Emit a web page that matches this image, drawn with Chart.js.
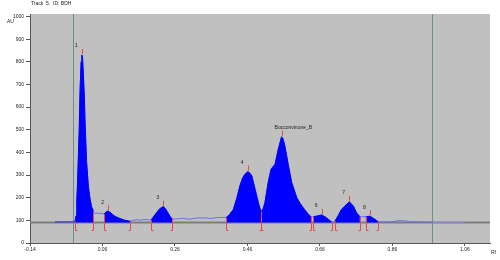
<!DOCTYPE html>
<html>
<head>
<meta charset="utf-8">
<script src="https://cdn.jsdelivr.net/npm/chart.js@4.4.1/dist/chart.umd.min.js"></script>
<style>
  body { margin: 0; background: #fff; }
  #wrap { width: 500px; height: 260px; }
</style>
</head>
<body>
<div id="wrap"><canvas id="densChart" width="500" height="260"></canvas></div>
<script>
// densitogram trace, Rf vs AU
const traceRf = [
    -0.071, -0.040, -0.016, -0.013, -0.011, -0.009, -0.007, -0.004, -0.002, 0.001,
    0.003, 0.005, 0.007, 0.010, 0.012, 0.016, 0.021, 0.026, 0.030, 0.035,
    0.040, 0.045, 0.050, 0.056, 0.060, 0.064, 0.068, 0.072, 0.076, 0.081,
    0.086, 0.095, 0.108, 0.122, 0.136, 0.145, 0.155, 0.165, 0.175, 0.185,
    0.194, 0.205, 0.216, 0.223, 0.228, 0.233, 0.238, 0.246, 0.253, 0.265,
    0.280, 0.300, 0.320, 0.340, 0.360, 0.375, 0.390, 0.401, 0.410, 0.421,
    0.430, 0.439, 0.446, 0.453, 0.461, 0.467, 0.472, 0.481, 0.490, 0.497,
    0.503, 0.508, 0.517, 0.525, 0.536, 0.545, 0.554, 0.558, 0.563, 0.573,
    0.582, 0.596, 0.605, 0.614, 0.625, 0.635, 0.638, 0.642, 0.655, 0.665,
    0.678, 0.692, 0.697, 0.701, 0.710, 0.719, 0.733, 0.741, 0.752, 0.761,
    0.770, 0.778, 0.786, 0.798, 0.812, 0.821, 0.840, 0.860, 0.872, 0.885,
    0.894, 0.910, 0.940, 0.970, 1.060
];
const traceAU = [
    93, 93, 94, 120, 180, 260, 360, 520, 670, 800,
    830, 815, 755, 640, 530, 360, 250, 190, 160, 140,
    130, 133, 129, 132, 130, 128, 134, 140, 140, 135,
    128, 117, 108, 100, 96, 100, 103, 101, 104, 102,
    101, 125, 148, 157, 160, 153, 140, 118, 105, 106,
    109, 105, 110, 111, 108, 112, 113, 112, 125, 148,
    195, 252, 285, 304, 315, 308, 296, 237, 178, 138,
    150, 178, 267, 326, 348, 415, 469, 460, 429, 341,
    267, 200, 175, 155, 132, 116, 115, 116, 120, 124,
    111, 93, 94, 96, 120, 148, 170, 182, 163, 133,
    116, 116, 116, 118, 104, 93, 94, 93, 98, 99,
    97, 94, 93, 92, 92
];

// integrated peaks
const peakNames = ['1', '2', '3', '4', 'Bocconvinone_B', '6', '7', '8'];
const peakStart = [-0.016, 0.064, 0.194, 0.401, 0.497, 0.642, 0.701, 0.786];
const peakEnd   = [0.035, 0.136, 0.253, 0.497, 0.635, 0.692, 0.770, 0.821];
const peakApex  = [0.003, 0.076, 0.228, 0.461, 0.554, 0.665, 0.741, 0.798];

const baselineAU = 90;
const baseRf = [-0.14, -0.071, 1.06, 1.129];
const markerRf = [-0.02, 0.97];          // application / front lines
const xTicks = [-0.14, 0.06, 0.26, 0.46, 0.66, 0.86, 1.06];
const yTicks = [0, 100, 200, 300, 400, 500, 600, 700, 800, 900, 1000];

const FONT = { family: "'Liberation Sans', Arial, sans-serif", size: 5 };

function inPeak(rf) {
    return peakStart.some((s, i) => rf >= s - 1e-9 && rf <= peakEnd[i] + 1e-9);
}
function auAt(rf) {
    let best = 0;
    traceRf.forEach((r, i) => { if (Math.abs(r - rf) < Math.abs(traceRf[best] - rf)) best = i; });
    return traceAU[best];
}

const tracePts = traceRf.map((r, i) => ({ x: r, y: traceAU[i] }));
const peakPts = traceRf.map((r, i) => ({ x: r, y: inPeak(r) ? traceAU[i] : null }));
const basePts = baseRf.map(r => ({ x: r, y: baselineAU }));

const overlayPlugin = {
    id: 'overlay',
    beforeDraw(chart) {
        const { ctx, chartArea: a } = chart;
        ctx.save();
        ctx.fillStyle = '#c0c0c0';
        ctx.fillRect(a.left, a.top, a.right - a.left, a.bottom - a.top);
        ctx.restore();
    },
    beforeDatasetsDraw(chart) {
        const { ctx, chartArea: a, scales: { x } } = chart;
        ctx.save();
        ctx.strokeStyle = '#6f8c8c';
        ctx.lineWidth = 1;
        markerRf.forEach(r => {
            const px = Math.round(x.getPixelForValue(r)) + 0.5;
            ctx.beginPath();
            ctx.moveTo(px, a.top);
            ctx.lineTo(px, a.bottom);
            ctx.stroke();
        });
        ctx.restore();
    },
    afterDatasetsDraw(chart) {
        const { ctx, chartArea: a, scales: { x, y } } = chart;
        ctx.save();
        ctx.strokeStyle = '#e84545';
        ctx.lineWidth = 1;
        const yBase = y.getPixelForValue(baselineAU);
        // bracket for peak boundaries
        const bracket = (rf, dir) => {
            const px = Math.round(x.getPixelForValue(rf)) + 0.5;
            const top = y.getPixelForValue(auAt(rf));
            const bot = Math.round(yBase + 7) + 0.5;
            ctx.beginPath();
            ctx.moveTo(px, top);
            ctx.lineTo(px, bot);
            ctx.lineTo(px + dir * 2, bot);
            ctx.stroke();
        };
        peakStart.forEach(r => bracket(r, 1));
        peakEnd.forEach(r => bracket(r, -1));
        // apex ticks
        peakApex.forEach(r => {
            const px = Math.round(x.getPixelForValue(r)) + 0.5;
            const py = y.getPixelForValue(auAt(r));
            ctx.beginPath();
            ctx.moveTo(px, py - 1);
            ctx.lineTo(px, py - 6);
            ctx.stroke();
        });
        // peak labels
        ctx.fillStyle = '#222';
        ctx.font = `${FONT.size}px ${FONT.family}`;
        ctx.textAlign = 'left';
        ctx.textBaseline = 'middle';
        peakApex.forEach((r, i) => {
            const px = x.getPixelForValue(r);
            const py = y.getPixelForValue(auAt(r));
            ctx.fillText(peakNames[i], px - 7, py - 9);
        });
        // header texts
        ctx.fillText('Track  5,  ID: BDH', 31, 4);
        ctx.fillText('AU', 7, 22);
        ctx.fillText('Rf', a.right + 1, a.bottom + 10);
        ctx.restore();
    }
};

new Chart(document.getElementById('densChart'), {
    type: 'line',
    data: {
        datasets: [
            {
                label: 'peaks',
                data: peakPts,
                borderColor: '#0000ff',
                backgroundColor: '#0000ff',
                borderWidth: 1,
                fill: { value: baselineAU },
                spanGaps: false,
                pointRadius: 0,
                tension: 0,
                order: 1
            },
            {
                label: 'trace',
                data: tracePts,
                borderWidth: 1,
                fill: false,
                pointRadius: 0,
                tension: 0,
                order: 2,
                segment: {
                    borderColor: c => c.p0.parsed.x < -0.016 ? '#2a2ae0'
                        : c.p0.parsed.x >= 0.97 ? '#9090e4' : '#6e6ee2'
                }
            },
            {
                label: 'baseline',
                data: basePts,
                borderWidth: 2,
                fill: false,
                pointRadius: 0,
                order: 3,
                segment: {
                    borderColor: c => (c.p0.parsed.x < -0.07 || c.p0.parsed.x >= 1.05) ? '#7c7c7c' : '#a3b0b0'
                }
            }
        ]
    },
    options: {
        responsive: false,
        animation: false,
        layout: { padding: { top: 14, right: 10, left: 0, bottom: 0 } },
        plugins: { legend: { display: false }, tooltip: { enabled: false } },
        scales: {
            x: {
                type: 'linear',
                min: -0.14,
                max: 1.129,
                afterBuildTicks: s => { s.ticks = xTicks.map(v => ({ value: v })); },
                afterFit: s => { s.height = 17; },
                grid: { drawOnChartArea: false, drawTicks: true, tickLength: 3, color: '#555' },
                border: { display: true, color: '#555' },
                ticks: { font: FONT, color: '#222', padding: 1, maxRotation: 0, callback: v => v.toFixed(2) }
            },
            y: {
                min: 0,
                max: 1011,
                afterBuildTicks: s => { s.ticks = yTicks.map(v => ({ value: v })); },
                afterFit: s => { s.width = 30; },
                grid: { drawOnChartArea: false, drawTicks: true, tickLength: 4, color: '#555' },
                border: { display: true, color: '#555' },
                ticks: { font: FONT, color: '#222', padding: 2, callback: v => String(v) }
            }
        }
    },
    plugins: [overlayPlugin]
});
</script>
</body>
</html>
